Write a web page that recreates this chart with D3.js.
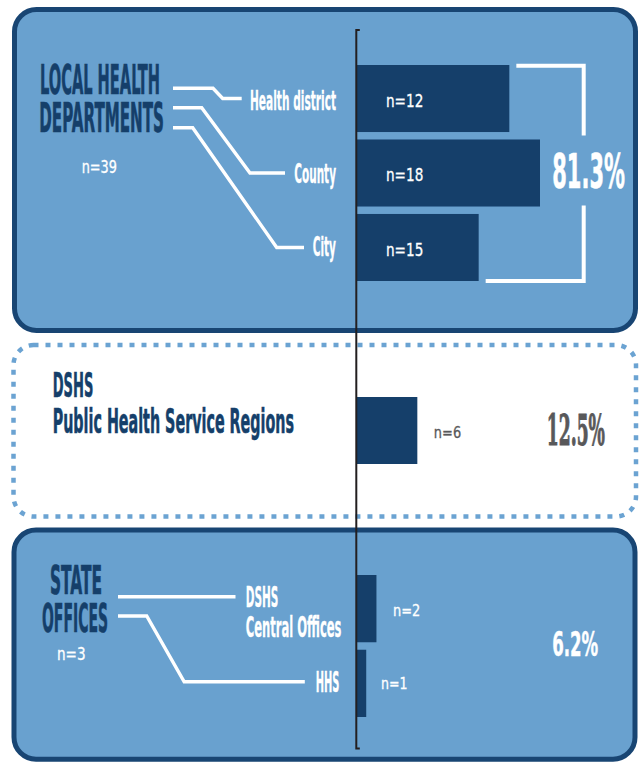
<!DOCTYPE html>
<html><head><meta charset="utf-8">
<script src="https://cdn.jsdelivr.net/npm/d3@7"></script>
<style>html,body{margin:0;padding:0;background:#fff}svg{display:block}</style>
</head><body><svg id="chart" width="639" height="763"></svg>
<script>
// ---- data ----
const groupTitles = [["LOCAL HEALTH", "DEPARTMENTS"], ["DSHS", "Public Health Service Regions"], ["STATE", "OFFICES"]];
const groupN = ["n=39", "", "n=3"];
const groupShare = ["81.3%", "12.5%", "6.2%"];
const categories = ["Health district", "County", "City", "Public Health Service Regions", "DSHS Central Offices", "HHS"];
const categoryLabels = [["Health district"], ["County"], ["City"], [], ["DSHS", "Central Offices"], ["HHS"]];
const categoryGroup = [0, 0, 0, 1, 2, 2];
const nValues = [12, 18, 15, 6, 2, 1];
const barLengths = [15, 18, 12, 6, 2, 1]; // bar lengths as drawn in the original

// ---- style ----
const NAVY = "#153f6a", PANEL = "#69a1cf", PANEL_STROKE = "#184573", DOT = "#6ba3d2", GRAY = "#58585a", AXIS = "#231f20";
const SANS = "'Liberation Sans Narrow','DejaVu Sans Condensed','Liberation Sans',sans-serif";
const SERIF = "'DejaVu Serif Condensed','Liberation Serif',serif";

const svg = d3.select("#chart");

// panels
svg.append("rect").attr("x", 14.5).attr("y", 9.5).attr("width", 621).attr("height", 321).attr("rx", 22)
  .attr("fill", PANEL).attr("stroke", PANEL_STROKE).attr("stroke-width", 5);
svg.append("rect").attr("x", 13.5).attr("y", 345).attr("width", 622.5).attr("height", 171.5).attr("rx", 20)
  .attr("fill", "#fff").attr("stroke", DOT).attr("stroke-width", 4.5).attr("stroke-dasharray", "5 7");
svg.append("rect").attr("x", 14).attr("y", 530).attr("width", 621).attr("height", 229.2).attr("rx", 22)
  .attr("fill", PANEL).attr("stroke", PANEL_STROKE).attr("stroke-width", 5);

// scales
const x = d3.scaleLinear().domain([0, 18]).range([356, 540]);
const yBands = [
  d3.scaleBand().domain(categories.slice(0, 3)).range([65, 281]).paddingInner(0.1),
  d3.scaleBand().domain(categories.slice(3, 4)).range([397, 464]),
  d3.scaleBand().domain(categories.slice(4, 6)).range([575, 717]).paddingInner(0.1)
];
const yOf = i => yBands[categoryGroup[i]](categories[i]);
const bw = i => yBands[categoryGroup[i]].bandwidth();
const cy = i => yOf(i) + bw(i) / 2;

function styled(sel, size, fill, opt) {
  sel.attr("font-family", opt.family || SANS).attr("font-weight", opt.weight || "bold")
    .attr("font-size", size).attr("fill", fill);
  if (opt.stroke) sel.attr("stroke", fill).attr("stroke-width", opt.stroke);
  return sel;
}
// condensed text: drawn at the size that gives the cap height, then squeezed to the target width
function txt(s, xx, yy, w, size, fill, opt = {}) {
  const t = styled(svg.append("text").attr("x", 0).attr("y", 0).text(s), size, fill, opt);
  const L = t.node().getComputedTextLength() || w;
  t.attr("transform", `translate(${xx},${yy}) scale(${w / L},1)`);
  return t;
}
// several lines in one text element; lines = [[string, x, y, width], ...]
function txtLines(lines, size, fill, opt = {}) {
  const t = styled(svg.append("text"), size, fill, opt);
  const [, x0, y0] = lines[0];
  const spans = lines.map(([s]) => t.append("tspan").text(s));
  const Ls = spans.map(sp => sp.node().getComputedTextLength());
  const sx = d3.max(lines, (l, k) => l[3] / Ls[k]);
  spans.forEach((sp, k) => {
    const [, lx, ly, lw] = lines[k];
    sp.attr("x", (lx - x0) / sx).attr("y", ly - y0)
      .attr("textLength", lw / sx).attr("lengthAdjust", "spacingAndGlyphs");
  });
  t.attr("transform", `translate(${x0},${y0}) scale(${sx},1)`);
  return t;
}

// bars
svg.selectAll("rect.bar").data(barLengths).join("rect").attr("class", "bar")
  .attr("x", x(0)).attr("y", (d, i) => yOf(i)).attr("width", d => x(d) - x(0)).attr("height", (d, i) => bw(i))
  .attr("fill", NAVY);

// group titles
const titleLayout = [
  [[40, 94, 120], [39.3, 132, 124.7]],
  [[52.7, 397.3, 40.6], [52.7, 433.3, 241.3]],
  [[50, 594, 52], [42, 631.7, 66]]
];
const titleSize = [40, 33.5, 39];
groupTitles.forEach((lines, g) => {
  txtLines(lines.map((s, k) => [s, ...titleLayout[g][k]]), titleSize[g], NAVY, { stroke: 0.6 });
});
const groupNLayout = [[81.7, 173.3, 35.3], null, [57, 660, 28.6]];
groupN.forEach((s, g) => { if (s) txt(s, groupNLayout[g][0], groupNLayout[g][1], groupNLayout[g][2], 17.5, "#fff", { weight: "normal", stroke: 0.3 }); });

// connector lines
const connectors = [
  { pts: [[173, 88.3], [213, 88.3], [222.7, cy(0)], [241.7, cy(0)]] },
  { pts: [[173, 107.7], [201.7, 107.7], [250, cy(1)], [285, cy(1)]] },
  { pts: [[173, 127.7], [192.7, 127.7], [276.7, cy(2)], [304, cy(2)]] },
  { pts: [[118, 596.7], [235.5, 596.7]] },
  { pts: [[118, 616], [146.7, 616], [184.2, cy(5) - 1.6], [304.8, cy(5) - 1.6]] }
];
svg.selectAll("path.conn").data(connectors).join("path").attr("class", "conn")
  .attr("d", d => d3.line()(d.pts)).attr("fill", "none").attr("stroke", "#fff")
  .attr("stroke-width", 3.4).attr("stroke-linejoin", "miter");

// category labels
const catLayout = [
  [[250, cy(0) + 11.5, 86]],
  [[294.3, cy(1) + 10.3, 41.7]],
  [[312.7, cy(2) + 8.5, 23.3]],
  [],
  [[245.7, 607.3, 32.6], [245.7, 636.7, 95.8]],
  [[315.8, cy(5) + 9, 23.7]]
];
categoryLabels.forEach((lines, i) => {
  if (!lines.length) return;
  const size = i >= 4 ? 28 : 27;
  if (lines.length === 1) txt(lines[0], ...catLayout[i][0], size, "#fff", { stroke: 0.3 });
  else txtLines(lines.map((s, k) => [s, ...catLayout[i][k]]), size, "#fff", { stroke: 0.3 });
});

// n labels
nValues.forEach((n, i) => {
  const g = categoryGroup[i];
  if (g === 0) txt("n=" + n, x(0) + 30, cy(i) + 8.2, 37.3, 18.5, "#fff", { weight: "normal", stroke: 0.3 });
  else {
    const w = n === 1 ? 26.5 : 27.3;
    txt("n=" + n, x(barLengths[i]) + (n === 1 ? 14.8 : 16.5), cy(i) + (n === 1 ? 5.5 : 7.3), w, 16.5,
      g === 1 ? GRAY : "#fff", { weight: "normal", stroke: 0.3 });
  }
});

// bracket around local health departments
const b0 = yOf(0), b2 = yOf(2) + bw(2), bx = 583.7, pc = cy(1) - 2.5;
svg.append("path")
  .attr("d", `M${x(barLengths[0]) + 7},${b0 + 0.7}H${bx}V${pc - 35}M${bx},${pc + 35}V${b2}H${x(barLengths[2]) + 7}`)
  .attr("fill", "none").attr("stroke", "#fff").attr("stroke-width", 4).attr("stroke-linejoin", "miter");

// share labels
txt(groupShare[0], 552.3, cy(1) + 14.8, 72.7, 47.5, "#fff", { stroke: 0.6 });
txt(groupShare[1], 546.7, cy(3) + 14.5, 58.3, 43, GRAY, { family: SERIF, stroke: 1 });
txt(groupShare[2], 552.2, 656, 46, 34, "#fff", { stroke: 0.5 });

// axis line
const yAxis = d3.scaleLinear().domain([0, 1]).range([29.5, 748]);
const ax = svg.append("g").attr("transform", "translate(355.8,0)")
  .call(d3.axisLeft(yAxis).tickValues([]).tickSizeOuter(-4));
ax.select(".domain").attr("stroke", AXIS).attr("stroke-width", 2);
</script></body></html>
